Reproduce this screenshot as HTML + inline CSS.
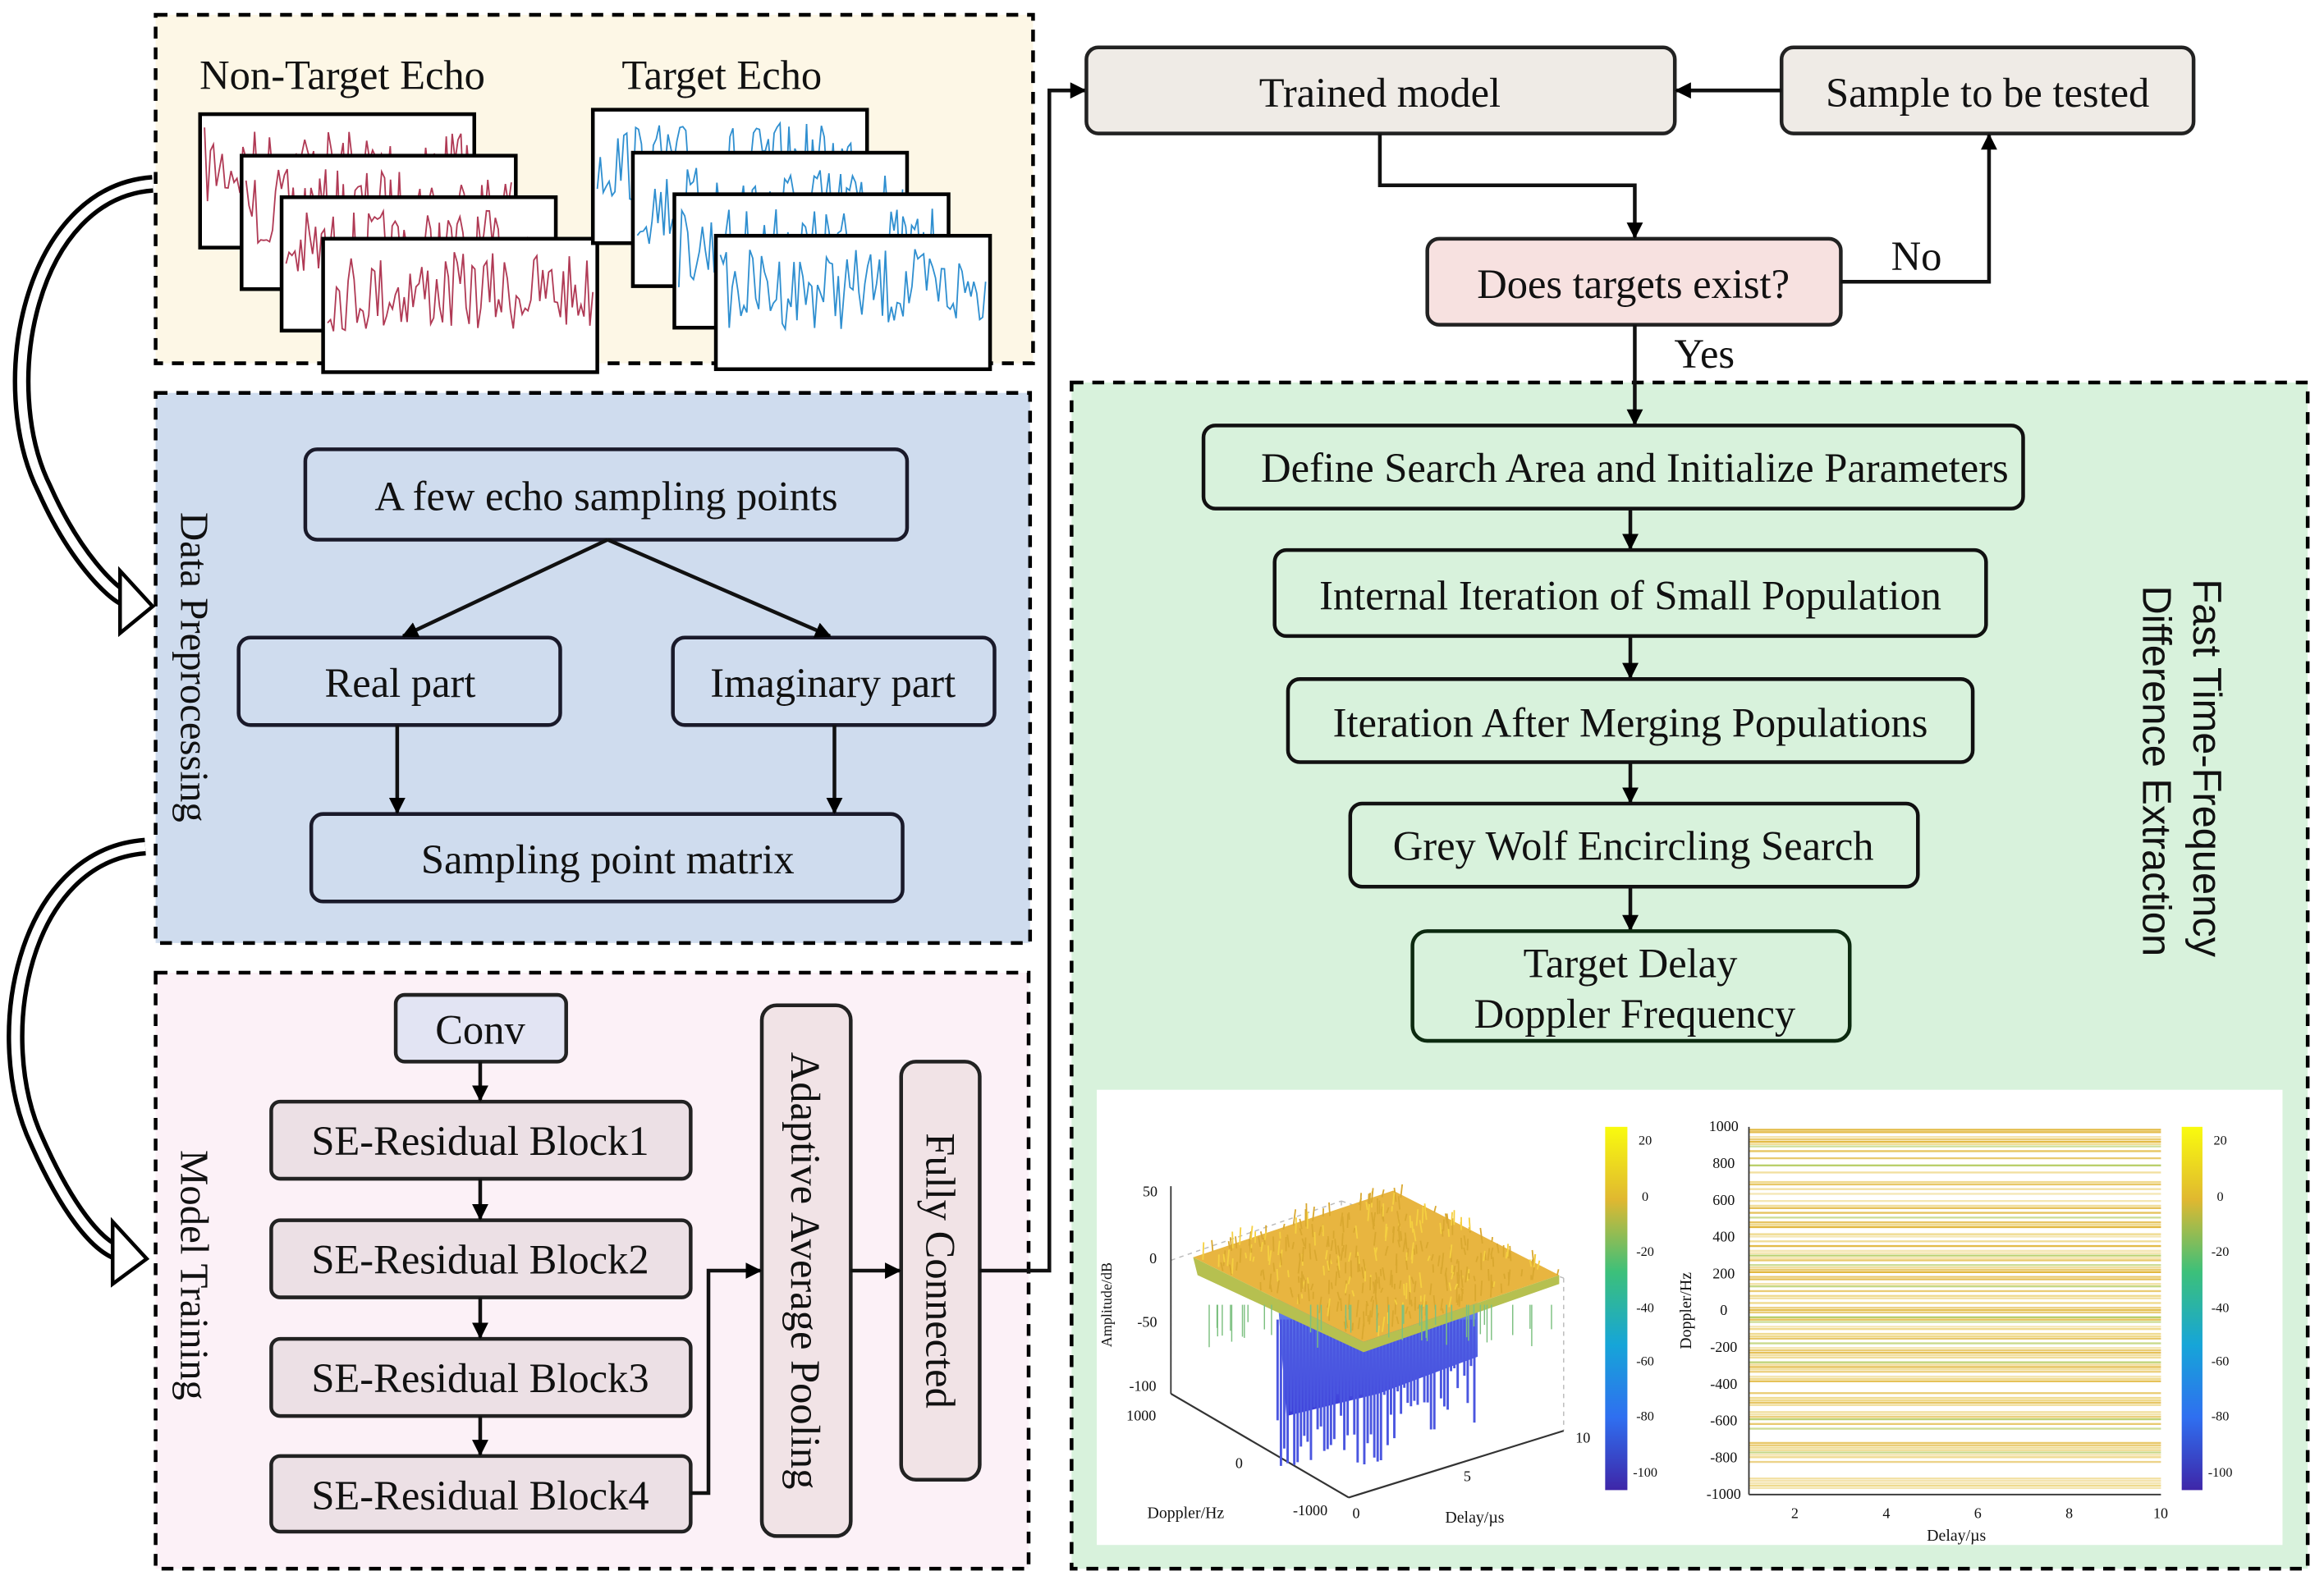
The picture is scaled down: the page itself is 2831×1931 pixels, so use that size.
<!DOCTYPE html>
<html><head><meta charset="utf-8"><style>
html,body{margin:0;padding:0;background:#fff;}
svg{display:block;}
text{font-family:"Liberation Serif","Times New Roman",serif;fill:#111;}
</style></head><body>
<svg id="s" width="2831" height="1931" viewBox="0 0 1568 1069" preserveAspectRatio="none" xmlns="http://www.w3.org/2000/svg" font-family="Liberation Serif, serif">
<defs>
<marker id="ah" viewBox="0 0 10 10" refX="9" refY="5" markerWidth="11" markerHeight="11" orient="auto" markerUnits="userSpaceOnUse" >
<path d="M0,0 L10,5 L0,10 z" fill="#000"/></marker>
<linearGradient id="cb" x1="0" y1="1" x2="0" y2="0">
<stop offset="0" stop-color="#3e26a8"/><stop offset="0.2" stop-color="#2f6ff0"/><stop offset="0.4" stop-color="#16a5d8"/><stop offset="0.6" stop-color="#3cc07a"/><stop offset="0.8" stop-color="#e0b830"/><stop offset="1" stop-color="#f9fb0e"/></linearGradient>
<linearGradient id="bl" x1="0" y1="0" x2="0" y2="1"><stop offset="0" stop-color="#6a8cf0"/><stop offset="1" stop-color="#3a3ad8"/></linearGradient>
</defs>
<!-- panels -->
<rect x="105" y="10" width="592" height="235" fill="#fdf7e6" stroke="#000" stroke-width="2.5" stroke-dasharray="8,6"/>
<rect x="105" y="265" width="590" height="371" fill="#cfdcee" stroke="#000" stroke-width="2.5" stroke-dasharray="8,6"/>
<rect x="105" y="656" width="589" height="402" fill="#fcf1f7" stroke="#000" stroke-width="2.5" stroke-dasharray="8,6"/>
<rect x="723" y="258" width="834" height="800" fill="#d8f2dc" stroke="#000" stroke-width="2.5" stroke-dasharray="8,6"/>

<text x="231" y="60" font-size="28" text-anchor="middle">Non-Target Echo</text>
<text x="487" y="60" font-size="28" text-anchor="middle">Target Echo</text>
<g id="waves"></g>

<!-- left hollow arrows -->
<g fill="none" stroke-linecap="butt">
<path d="M103,124 C20,130 -5,260 30,330 C50,375 75,400 85,404" stroke="#000" stroke-width="12"/>
<path d="M103,124 C20,130 -5,260 30,330 C50,375 75,400 85,404" stroke="#fff" stroke-width="6"/>
<path d="M98,571 C15,577 -8,700 25,770 C45,815 65,840 80,845" stroke="#000" stroke-width="12"/>
<path d="M98,571 C15,577 -8,700 25,770 C45,815 65,840 80,845" stroke="#fff" stroke-width="6"/>
</g>
<polygon points="81,385 103,409 81,427" fill="#fff" stroke="#000" stroke-width="2.5"/>
<polygon points="76,824 99,849 76,866" fill="#fff" stroke="#000" stroke-width="2.5"/>

<!-- blue panel -->
<text font-size="27" transform="translate(122,450) rotate(90)" text-anchor="middle">Data Preprocessing</text>
<g stroke="#1a1a2a" stroke-width="2.5" fill="#cfdcee">
<rect x="206" y="303" width="406" height="61" rx="8"/>
<rect x="161" y="430" width="217" height="59" rx="8"/>
<rect x="454" y="430" width="217" height="59" rx="8"/>
<rect x="210" y="549" width="399" height="59" rx="8"/>
</g>
<text x="409" y="344" font-size="28" text-anchor="middle">A few echo sampling points</text>
<text x="270" y="470" font-size="28" text-anchor="middle">Real part</text>
<text x="562" y="470" font-size="28" text-anchor="middle">Imaginary part</text>
<text x="410" y="589" font-size="28" text-anchor="middle">Sampling point matrix</text>
<g stroke="#111" stroke-width="2.5" fill="none" marker-end="url(#ah)">
<line x1="410" y1="364" x2="272" y2="429"/>
<line x1="410" y1="364" x2="560" y2="429"/>
<line x1="268" y1="489" x2="268" y2="548"/>
<line x1="563" y1="489" x2="563" y2="548"/>
</g>

<!-- pink panel -->
<text font-size="27" transform="translate(122,860) rotate(90)" text-anchor="middle">Model Training</text>
<g stroke="#222" stroke-width="2.5">
<rect x="267" y="671" width="115" height="45" rx="6" fill="#e2e4f3"/>
<rect x="183" y="743" width="283" height="52" rx="6" fill="#ece0e5"/>
<rect x="183" y="823" width="283" height="52" rx="6" fill="#ece0e5"/>
<rect x="183" y="903" width="283" height="52" rx="6" fill="#ece0e5"/>
<rect x="183" y="982" width="283" height="51" rx="6" fill="#ece0e5"/>
<rect x="514" y="678" width="60" height="358" rx="10" fill="#f1e3e6"/>
<rect x="608" y="716" width="53" height="282" rx="10" fill="#f1e3e6"/>
</g>
<text x="324" y="704" font-size="28" text-anchor="middle" fill="#333">Conv</text>
<text x="324" y="779" font-size="28" text-anchor="middle">SE-Residual Block1</text>
<text x="324" y="859" font-size="28" text-anchor="middle">SE-Residual Block2</text>
<text x="324" y="939" font-size="28" text-anchor="middle">SE-Residual Block3</text>
<text x="324" y="1018" font-size="28" text-anchor="middle">SE-Residual Block4</text>
<text font-size="28" transform="translate(534,857) rotate(90)" text-anchor="middle">Adaptive Average Pooling</text>
<text font-size="28" transform="translate(625,857) rotate(90)" text-anchor="middle">Fully Connected</text>
<g stroke="#111" stroke-width="2.5" fill="none" marker-end="url(#ah)">
<line x1="324" y1="716" x2="324" y2="742"/>
<line x1="324" y1="795" x2="324" y2="822"/>
<line x1="324" y1="875" x2="324" y2="902"/>
<line x1="324" y1="955" x2="324" y2="981"/>
<polyline points="466,1007 478,1007 478,857 513,857"/>
<line x1="574" y1="857" x2="607" y2="857"/>
<polyline points="661,857 708,857 708,61 732,61"/>
</g>

<!-- top right -->
<g stroke="#222" stroke-width="2.5">
<rect x="733" y="32" width="397" height="58" rx="8" fill="#efebe6"/>
<rect x="1202" y="32" width="278" height="58" rx="8" fill="#efebe6"/>
<rect x="963" y="161" width="279" height="58" rx="8" fill="#f7e1e0"/>
</g>
<text x="931" y="72" font-size="28" text-anchor="middle">Trained model</text>
<text x="1341" y="72" font-size="28" text-anchor="middle">Sample to be tested</text>
<text x="1102" y="201" font-size="28" text-anchor="middle">Does targets exist?</text>
<text x="1293" y="182" font-size="28" text-anchor="middle">No</text>
<text x="1150" y="248" font-size="28" text-anchor="middle">Yes</text>
<g stroke="#111" stroke-width="2.5" fill="none" marker-end="url(#ah)">
<polyline points="931,90 931,125 1103,125 1103,160"/>
<line x1="1202" y1="61" x2="1131" y2="61"/>
<polyline points="1242,190 1342,190 1342,91"/>
<line x1="1103" y1="219" x2="1103" y2="286"/>
<line x1="1100" y1="343" x2="1100" y2="370"/>
<line x1="1100" y1="429" x2="1100" y2="457"/>
<line x1="1100" y1="514" x2="1100" y2="541"/>
<line x1="1100" y1="598" x2="1100" y2="627"/>
</g>

<!-- green boxes -->
<g stroke="#111" stroke-width="2.5" fill="#d8f2dc">
<rect x="812" y="287" width="553" height="56" rx="8"/>
<rect x="860" y="371" width="480" height="58" rx="8"/>
<rect x="869" y="458" width="462" height="56" rx="8"/>
<rect x="911" y="542" width="383" height="56" rx="8"/>
<rect x="953" y="628" width="295" height="74" rx="10" stroke="#0c2a10"/>
</g>
<text x="1103" y="325" font-size="28" text-anchor="middle">Define Search Area and Initialize Parameters</text>
<text x="1100" y="411" font-size="28" text-anchor="middle">Internal Iteration of Small Population</text>
<text x="1100" y="497" font-size="28" text-anchor="middle">Iteration After Merging Populations</text>
<text x="1102" y="580" font-size="28" text-anchor="middle">Grey Wolf Encircling Search</text>
<text x="1100" y="659" font-size="28" text-anchor="middle">Target Delay</text>
<text x="1103" y="693" font-size="28" text-anchor="middle">Doppler Frequency</text>
<text font-size="27" transform="translate(1480,518) rotate(90)" text-anchor="middle" font-family="Liberation Sans, sans-serif" style="font-family:'Liberation Sans',sans-serif">Fast Time-Frequency</text>
<text font-size="27" transform="translate(1446,520) rotate(90)" text-anchor="middle" font-family="Liberation Sans, sans-serif" style="font-family:'Liberation Sans',sans-serif">Difference Extraction</text>

<!-- plots -->
<rect x="740" y="735" width="800" height="307" fill="#fff"/>
<g id="plot"></g>
</svg>
<script>
var NS="http://www.w3.org/2000/svg";
function el(p,t,a){var e=document.createElementNS(NS,t);for(var k in a)e.setAttribute(k,a[k]);p.appendChild(e);return e;}
var seed=7;function r(){seed=(seed*16807)%2147483647;return seed/2147483647;}
var W=document.getElementById('waves');
function frames(color,boxes){
 boxes.forEach(function(b,i){
  el(W,'rect',{x:b[0],y:b[1],width:b[2],height:b[3],fill:'#fff',stroke:'#000','stroke-width':2.5});
  var pts=[];var n=90;for(var j=0;j<=n;j++){var x=b[0]+3+j*(b[2]-6)/n;var y=b[1]+b[3]*0.4+(r()-0.5)*b[3]*0.6;pts.push(x.toFixed(1)+','+y.toFixed(1));}
  el(W,'polyline',{points:pts.join(' '),fill:'none',stroke:color,'stroke-width':1});
 });
}
frames('#b03a55',[[135,77,185,90],[163,105,185,90],[190,133,185,90],[218,161,185,90]]);
frames('#2f8fd0',[[400,74,185,90],[427,103,185,90],[455,131,185,90],[483,159,185,90]]);
var P=document.getElementById('plot');
var g='#bbb';
[[790,850,905,810],[905,810,1055,862],[790,850,790,940],[905,810,905,885],[1055,862,1055,965],[790,940,910,1010],[910,1010,1055,965]].forEach(function(l,i){el(P,'line',{x1:l[0],y1:l[1],x2:l[2],y2:l[3],stroke:i>4?'#333':g,'stroke-width':i>4?1.2:0.8,'stroke-dasharray':i>4?'':'3,3'});});
el(P,'line',{x1:790,y1:800,x2:790,y2:940,stroke:'#333','stroke-width':1});
// blue spikes
el(P,'polygon',{points:'862,875 997,868 997,915 930,940 868,955',fill:'url(#bl)'});
for(var i=0;i<60;i++){var x=862+i*2.25;var h=40+r()*50-(i>30?(i-30)*1.0:0);el(P,'line',{x1:x,y1:890,x2:x,y2:900+h,stroke:'#4a56e0','stroke-width':1.6});}
// yellow surface
el(P,'polygon',{points:'805,848 940,803 1052,860 920,905',fill:'#e8b540'});
el(P,'polygon',{points:'805,848 920,905 1052,860 1052,866 920,912 808,860',fill:'#b6c050'});
for(var i=0;i<350;i++){var u=r(),v=r();var x=805+u*(940-805)+v*(920-805);var y=848+u*(803-848)+v*(905-848);el(P,'line',{x1:x,y1:y,x2:x+(r()-0.5)*3,y2:y-3-r()*9,stroke:r()<0.3?'#f5d040':'#d9a830','stroke-width':1});}
for(var i=0;i<40;i++){var x=812+r()*235;el(P,'line',{x1:x,y1:880,x2:x,y2:890+r()*20,stroke:'#7cc080','stroke-width':0.8});}
function t(x,y,s,fs,rot){var e=el(P,'text',{x:x,y:y,'font-size':fs||10,'text-anchor':'middle'});if(rot)e.setAttribute('transform','rotate(-90 '+x+' '+y+')');e.textContent=s;return e;}
t(776,807,'50');t(778,852,'0');t(774,895,'-50');t(771,938,'-100');
t(750,880,'Amplitude/dB',10,1);t(770,958,'1000');t(836,990,'0');t(884,1022,'-1000');t(915,1024,'0');t(990,999,'5');t(1068,973,'10');
t(800,1024,'Doppler/Hz',11);t(995,1027,'Delay/µs',11);
el(P,'rect',{x:1083,y:760,width:15,height:245,fill:'url(#cb)'});
[[20,772],[0,810],[-20,847],[-40,885],[-60,921],[-80,958],[-100,996]].forEach(function(a){t(1110,a[1],String(a[0]),9);});
// right 2D plot
for(var y=762;y<1006;y+=1.6){if(r()<0.6){var c=r();var col=c<0.45?'#efd98a':(c<0.85?'#e2b83e':'#b9cf6a');el(P,'line',{x1:1180,y1:y,x2:1458,y2:y,stroke:col,'stroke-width':1.3,opacity:0.6+r()*0.4});}}
el(P,'line',{x1:1180,y1:760,x2:1180,y2:1008,stroke:'#333','stroke-width':1});
el(P,'line',{x1:1180,y1:1008,x2:1458,y2:1008,stroke:'#333','stroke-width':1});
[1000,800,600,400,200,0,-200,-400,-600,-800,-1000].forEach(function(v,i){t(1163,763+i*24.8,String(v),10);});
[2,4,6,8,10].forEach(function(v,i){t(1211+i*61.7,1024,String(v),10);});
t(1141,884,'Doppler/Hz',11,1);t(1320,1039,'Delay/µs',11);
el(P,'rect',{x:1472,y:760,width:14,height:245,fill:'url(#cb)'});
[[20,772],[0,810],[-20,847],[-40,885],[-60,921],[-80,958],[-100,996]].forEach(function(a){t(1498,a[1],String(a[0]),9);});
</script>
</body></html>
